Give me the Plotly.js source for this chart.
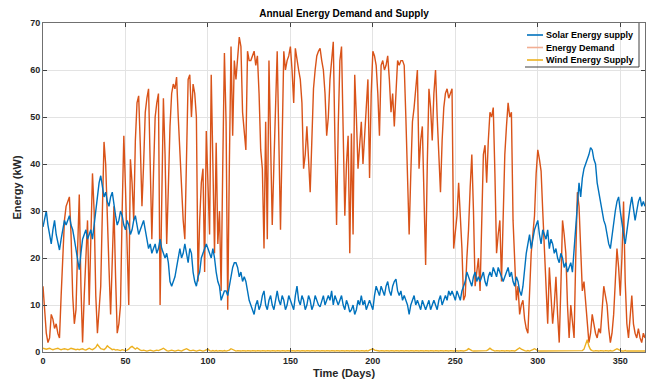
<!DOCTYPE html>
<html>
<head>
<meta charset="utf-8">
<script src="https://cdn.plot.ly/plotly-3.0.1.min.js"></script>
<style>html,body{margin:0;padding:0;background:#fff;}#chart{width:652px;height:388px;}</style>
</head>
<body>
<div id="chart"></div>
<script>
// Daily values, index = day (0..365)
const solarSupply = [
26.6,28,30,27,25,23,26,28,25,23,
21.7,24,26,28,27,28,29,27,26,24,
22,20,17.5,21,24,25,26,24,25,26,
24,27,30,33,36,37.5,35,33,34,32,
31,33,34,31,29,27,28,30,29,27,
26,28,27,25,26,28,29,27,25,26,
27,28,26,24,22,23,21,22,23,21,
22,24,22,21,20,21,19,15,14,15,
16,18,20,22,20,21,23,21,19,22,
21,17,15,14,16,17,20,21,22,23,
22,21,20,22,20,17,15,14,11,12,
13,13,12,14,16,18,19,19,18,16,
17,15,16,15,13,11,10,9,8,10,
11,9,10,12,13,10,9,11,12,10,
9,11,13,11,10,12,11,9,10,12,
11,10,9,12,14,11,10,12,11,9,
10,12,11,9,10,12,11,10,9.6,11,
12,10,11,12,11,13,10,12,11,10,
11,12,10,9,11,10,8.5,9,10,8,
9,11,10,12,10,11,9,10,11,10,
9,12,14,13,12,14,13,12,14,15,
13,12,14,15,15.5,13,12,13,11,12,
11,10,8,10,11,12,10,11,10,9,
11,10,9,10,11,9,10,11,10,9,
11,12,10,11,12,11,13,12,13,12,
11,13,12,11,13,14,15,17,16,15,
14,16,17,15,16,15,16,17,15,14,
16,17,16,18,17,16,18,17,16,15,
16,17,18,16,17,15,14,16,15,13,
12,14,18,21,23,25,22,24,26,27,
28,25,23,26,25,24,26,22,24,23,
21,22,20,19,21,20,18,19,17,18,
19,17,22,28,31,36,33,37,39,40,
41,42,43.5,43,41,40,36,34,32,30,
28,27,25,23,22,25,27,30,32,33,
30,27,25,23,26,29,31,33,30,28,
30,32,33,31,32,31
];
const energyDemand = [
14,8,4,2,3,8,7,5,6,4,
3,12,22,28,31,32,33,25,12,6,
9,22,33.5,14,2,12,20,28,10,24,
38,30,12,4,9,14,30,44.7,40,31,
18,8,20,31,16,4,6,10,30,46,
35,20,10,41,36,28,45,53,54.5,44,
31,40,51,54,56,40,24,38,50,53,
55,10,30,54,42,23,35,48,55,57,
56,58.5,50,42,34,28,24,42,58,59,
50,57,55,50,15,28,36,39,17,47,
36,25,59,40,21,44.5,23,30,13,40,
63.6,49,9,40,65,46,62,58,63,67,
65,51,47,43,64,62,62,63,64,61,
63,55,43,39,22,49,24,62,45,27,
40,55,64,45,26,45,64,60,62,63,
65,60,53,64.6,62,60,58,53,39,42,
48,40,34,45,56,60,63,64,64.6,62,
60,55,46,50,58,62,66,45,27,48,
62,65,50,29,40,46,21,46.5,25,59,
50,39,44,49,40,46,52,58,37,55,
64,63,61,55,46,61,62,60,61,63,
58,51,55,48,55,62,61,62,62,61,
50,36,25,38,49,52,56,60,39,45,
48,35,18.5,40,56,52,45,55,60,50,
42,34,45,52,55,56,54,55,56,22,
26,29,36,30,22,11,12,20,26,35,
42,30,14,17,20,13,28,42,44,36,
45,51,50,52,38,21,25,28,15,30,
42,48,53,50,51,28,18,11,14,8,
10,11,7,5,4,12,21,25,29,38,
43,41,38.5,30,23,14,6,18,12,6,
10,16,8,2,14,28,25,21,10,3,
10,6,3,20,34,31,22,13,15,11,
6,2,4,8,6,4,3,5,4,10,
14,12,10,5,2,4,8,15,22,18,
12,20,32,15,6,3,8,12,6,4,
3,5,3,2,4,3
];
const windSupply = [
0.8,0.7,0.6,0.7,0.8,0.6,0.5,0.6,0.7,0.8,
0.6,0.5,0.6,0.7,0.6,0.5,0.6,0.8,0.7,0.6,
0.5,0.6,0.5,0.6,0.7,0.5,0.4,0.6,0.8,0.6,
0.5,0.7,1.0,1.6,1.2,0.7,0.6,0.5,0.8,1.3,
1.0,0.7,0.5,0.6,0.4,0.5,0.4,0.3,0.5,0.4,
0.3,0.4,0.6,1.0,1.2,0.9,0.6,0.9,0.6,0.4,
0.3,0.4,0.3,0.2,0.3,0.4,0.3,0.2,0.3,0.4,
0.3,0.4,0.6,0.8,0.5,0.3,0.2,0.3,0.4,0.3,
0.2,0.3,0.4,0.3,0.2,0.4,0.5,0.7,0.5,0.3,
0.3,0.4,0.3,0.2,0.3,0.4,0.3,0.2,0.3,0.4,
0.6,0.3,0.2,0.3,0.2,0.3,0.2,0.3,0.2,0.2,
0.3,0.2,0.3,0.4,0.7,0.5,0.3,0.2,0.3,0.2,
0.2,0.3,0.2,0.2,0.3,0.2,0.2,0.3,0.2,0.2,
0.3,0.2,0.2,0.3,0.2,0.2,0.3,0.2,0.2,0.3,
0.2,0.2,0.3,0.2,0.2,0.3,0.2,0.2,0.3,0.2,
0.2,0.3,0.2,0.2,0.3,0.2,0.2,0.3,0.2,0.2,
0.3,0.2,0.2,0.3,0.2,0.2,0.3,0.2,0.2,0.3,
0.2,0.2,0.3,0.2,0.2,0.3,0.2,0.2,0.3,0.2,
0.2,0.3,0.2,0.2,0.3,0.2,0.2,0.3,0.2,0.2,
0.3,0.2,0.2,0.3,0.2,0.2,0.3,0.2,0.4,0.5,
0.7,0.4,0.3,0.2,0.2,0.3,0.2,0.2,0.3,0.2,
0.2,0.3,0.2,0.2,0.3,0.2,0.2,0.3,0.2,0.2,
0.3,0.2,0.2,0.3,0.2,0.2,0.3,0.2,0.2,0.3,
0.2,0.2,0.3,0.2,0.2,0.3,0.2,0.2,0.3,0.2,
0.2,0.3,0.2,0.2,0.3,0.2,0.2,0.3,0.2,0.2,
0.3,0.2,0.2,0.3,0.2,0.2,0.3,0.4,0.7,0.4,
0.3,0.2,0.2,0.3,0.2,0.2,0.3,0.2,0.2,0.3,
0.5,0.8,0.5,0.3,0.2,0.3,0.2,0.2,0.3,0.2,
0.2,0.3,0.2,0.2,0.3,0.2,0.2,0.4,0.6,0.9,
0.6,0.4,0.3,0.2,0.3,0.2,0.3,0.5,0.7,0.4,
0.3,0.2,0.2,0.3,0.2,0.2,0.3,0.2,0.2,0.3,
0.2,0.2,0.3,0.2,0.2,0.3,0.2,0.2,0.3,0.2,
0.2,0.3,0.2,0.2,0.3,0.2,0.2,0.3,0.6,1.5,
2.6,1.2,0.5,0.3,0.2,0.3,0.2,0.2,0.3,0.2,
0.2,0.3,0.2,0.2,0.3,0.2,0.3,0.5,0.7,0.5,
0.3,0.2,0.2,0.3,0.2,0.2,0.3,0.2,0.2,0.3,
0.2,0.3,0.2,0.2,0.3,0.2
];
const seriesNames = ['Solar Energy supply', 'Energy Demand', 'Wind Energy Supply'];
const xTicks = [0, 50, 100, 150, 200, 250, 300, 350];
const yTicks = [0, 10, 20, 30, 40, 50, 60, 70];
const days = solarSupply.map((_, i) => i);

const colors = ['#0072BD', '#D95319', '#EDB120'];
const legendSample = ['#0072BD', '#F2AE93', '#EDB120'];
const FONT = 'Liberation Sans, Arial, Helvetica, sans-serif';

const traces = [solarSupply, energyDemand, windSupply].map((ys, k) => ({
  x: days, y: ys, type: 'scatter', mode: 'lines', name: seriesNames[k],
  line: {color: colors[k], width: 1.4}, hoverinfo: 'skip'
}));
// draw demand first so solar sits on top? keep order: solar, demand, wind
const order = [traces[1], traces[0], traces[2]];

// plot box in pixels
const L = 43, R = 645, T = 23, B = 352;
const px = x => (x - L) / (R - L);
const py = y => (B - y) / (B - T);

const shapes = [];
const annotations = [];
// custom legend
const legX0 = 525, legX1 = 639, legY1 = 67;
shapes.push({type:'line', xref:'paper', yref:'paper', x0:px(legX0), x1:px(legX1), y0:py(legY1), y1:py(legY1), line:{color:'#404040', width:1}});
shapes.push({type:'line', xref:'paper', yref:'paper', x0:px(legX1), x1:px(legX1), y0:py(T), y1:py(legY1), line:{color:'#404040', width:1}});
const rows = [35, 47.5, 60];
seriesNames.forEach((n, k) => {
  shapes.push({type:'line', xref:'paper', yref:'paper', x0:px(527), x1:px(543), y0:py(rows[k]), y1:py(rows[k]), line:{color:legendSample[k], width:1.6}});
  annotations.push({xref:'paper', yref:'paper', x:px(544), y:py(rows[k]), xanchor:'left', yanchor:'middle', showarrow:false, text:n, font:{family:FONT, size:9, color:'#000', weight:'bold'}});
});

const axisCommon = {
  showline: true, linecolor: '#707070', linewidth: 1, mirror: 'ticks',
  ticks: 'inside', ticklen: 4, tickcolor: '#404040', tickwidth: 1,
  showgrid: true, gridcolor: '#E3E3E3', gridwidth: 1, zeroline: false,
  tickfont: {family: FONT, size: 9, color: '#262626', weight: 'bold'}
};

const layout = {
  width: 652, height: 388,
  margin: {l: L, r: 652 - R, t: T, b: 388 - B, pad: 0},
  paper_bgcolor: '#fff', plot_bgcolor: '#fff',
  showlegend: false,
  title: {text: 'Annual Energy Demand and Supply', font: {family: FONT, size: 10, color: '#000', weight: 'bold'},
          x: 0.5 + (L - (652 - R)) / 2 / 652, xanchor: 'center', y: 1 - 13 / 388, yref: 'container', yanchor: 'middle'},
  xaxis: Object.assign({}, axisCommon, {range: [0, 365], tickvals: xTicks, ticktext: xTicks.map(String),
          title: {text: 'Time (Days)', font: {family: FONT, size: 11, color: '#262626', weight: 'bold'}, standoff: 4}}),
  yaxis: Object.assign({}, axisCommon, {range: [0, 70], tickvals: yTicks, ticktext: yTicks.map(String),
          title: {text: 'Energy (kW)', font: {family: FONT, size: 11, color: '#262626', weight: 'bold'}, standoff: 6}}),
  shapes: shapes, annotations: annotations
};

Plotly.newPlot('chart', order, layout, {displayModeBar: false, staticPlot: true});
</script>
</body>
</html>
